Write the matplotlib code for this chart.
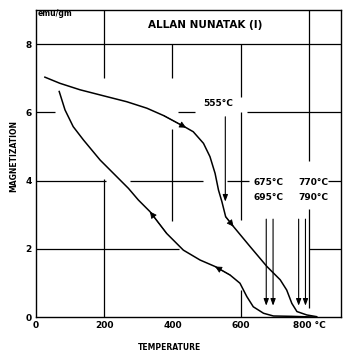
import matplotlib
matplotlib.use("Agg")
import matplotlib.pyplot as plt

# heating curve (upper)
heat_T = [26, 70, 129, 207, 266, 325, 375, 440, 461, 491, 510, 525, 535, 545, 556,
          579, 628, 677, 716, 735, 750, 765, 794, 823]
heat_M = [7.03, 6.85, 6.66, 6.46, 6.31, 6.12, 5.90, 5.55, 5.43, 5.09, 4.70, 4.21, 3.72,
          3.38, 2.94, 2.65, 2.06, 1.48, 1.09, 0.79, 0.40, 0.16, 0.06, 0.01]

# cooling curve (lower)
cool_T = [68, 85, 109, 139, 188, 237, 271, 300, 334, 383, 432, 481, 525, 569, 598,
          618, 637, 667, 696, 750, 812]
cool_M = [6.61, 6.07, 5.58, 5.19, 4.60, 4.11, 3.77, 3.43, 3.09, 2.45, 1.96, 1.67, 1.48,
          1.23, 0.99, 0.60, 0.30, 0.11, 0.03, 0.02, 0.0]

# Curie points marked with arrows
curie_T = [555, 675, 695, 770, 790]

xticks = [0, 200, 400, 600, 800]
xlabels = ["0", "200", "400", "600", "800 \u00b0C"]
yticks = [0, 2, 4, 6, 8]

fig = plt.figure(figsize=(3.43, 3.55), dpi=100)
ax = fig.add_axes([0.105, 0.107, 0.889, 0.865])
ax.set_xlim(0, 894)
ax.set_ylim(0, 9.0)

# broken grid lines like the original drawing
hsegs = [(8, 0, 894), (6, 0, 55), (6, 417, 467), (6, 620, 894),
         (4, 0, 205), (4, 275, 490), (4, 560, 625), (4, 855, 894),
         (2, 0, 420), (2, 800, 894)]
vsegs = [(200, 0, 4.05), (200, 7.0, 9.0), (400, 2.8, 5.5), (400, 7.0, 8.0),
         (600, 0, 0.8), (600, 2.85, 6.0), (600, 6.45, 8.0),
         (800, 0.27, 3.17), (800, 4.56, 9.0)]
for y, a, b in hsegs:
    ax.hlines(y, a, b, color="black", lw=0.9)
for x, a, b in vsegs:
    ax.vlines(x, a, b, color="black", lw=0.9)

ax.plot(heat_T, heat_M, color="black", lw=1.1)
ax.plot(cool_T, cool_M, color="black", lw=1.1)

# direction arrows on the curves
def dir_arrow(T, M, i, forward=True):
    j = i + 1 if forward else i - 1
    ax.annotate("", xy=(T[j], M[j]), xytext=(T[i], M[i]),
                arrowprops=dict(arrowstyle="-|>,head_length=0.4,head_width=0.2",
                                color="black", lw=0.6, shrinkA=0, shrinkB=0))

dir_arrow(heat_T, heat_M, 6)
dir_arrow(heat_T, heat_M, 14)
dir_arrow(cool_T, cool_M, 9, forward=False)
dir_arrow(cool_T, cool_M, 13, forward=False)

# vertical Curie point arrows
arr = dict(arrowstyle="-|>,head_length=0.4,head_width=0.15", color="black", lw=0.8)
ax.annotate("", xy=(curie_T[0], 3.3), xytext=(curie_T[0], 5.95), arrowprops=arr)
for t in curie_T[1:]:
    ax.annotate("", xy=(t, 0.25), xytext=(t, 2.95), arrowprops=arr)

fnt = dict(fontsize=6.5, fontweight="bold", family="DejaVu Sans")
ax.text(534, 6.25, "555\u00b0C", ha="center", va="center", **fnt)
ax.text(683, 3.93, "675\u00b0C", ha="center", va="center", **fnt)
ax.text(683, 3.49, "695\u00b0C", ha="center", va="center", **fnt)
ax.text(812, 3.93, "770\u00b0C", ha="center", va="center", **fnt)
ax.text(812, 3.49, "790\u00b0C", ha="center", va="center", **fnt)

ax.text(496, 8.55, "ALLAN NUNATAK (I)", ha="center", va="center",
        fontsize=7.5, fontweight="bold")
ax.text(6, 8.9, "emu/gm", ha="left", va="center", fontsize=5.5, fontweight="bold")

ax.set_xticks(xticks)
ax.set_xticklabels(xlabels, fontsize=6.5, fontweight="bold")
ax.set_yticks(yticks)
ax.set_yticklabels([str(v) for v in yticks], fontsize=6.5, fontweight="bold")
ax.tick_params(length=0, pad=3)
for s in ax.spines.values():
    s.set_linewidth(1.0)

fig.text(0.04, 0.56, "MAGNETIZATION", rotation=90, ha="center", va="center",
         fontsize=5.5, fontweight="bold")
fig.text(0.495, 0.022, "TEMPERATURE", ha="center", va="center",
         fontsize=5.5, fontweight="bold")

fig.savefig("out.png", dpi=100)
